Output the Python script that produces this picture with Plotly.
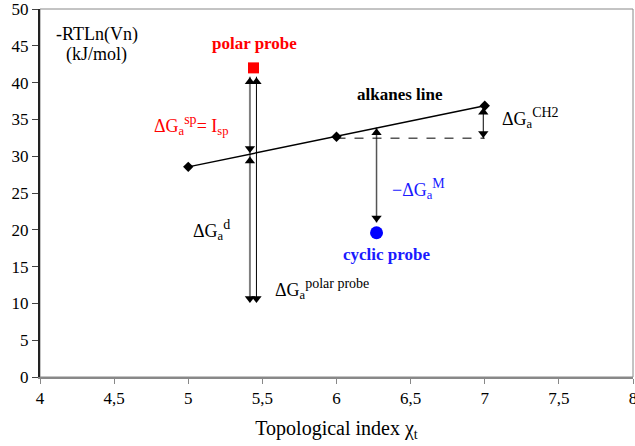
import plotly.graph_objects as go

# ---- data ----
alkane_x = [5, 6, 7]
alkane_y = [28.55, 32.65, 36.85]

polar_x = [5.44]
polar_y = [42.0]

cyclic_x = [6.27]
cyclic_y = [19.6]

# vertical arrows: x, top, bottom, colour, width
arrow_x = [5.416, 5.46, 6.99, 6.27]
arrow_top = [40.8, 40.8, 36.6, 33.9]
arrow_bottom = [10.3, 10.3, 32.4, 21.0]
arrow_color = ["#7f7f7f", "#000000", "#000000", "#555555"]
arrow_width = [2, 1, 1, 1.5]

# arrow heads
head_up_x = [5.416, 5.46, 5.416, 6.99, 6.27]
head_up_y = [40.1, 40.1, 29.36, 35.98, 33.2]
head_down_x = [5.416, 5.416, 5.46, 6.99, 6.27]
head_down_y = [31.05, 10.66, 10.66, 33.08, 21.6]

# dashed reference line (CH2 increment)
dash_x = [6, 7]
dash_y = [32.45, 32.45]

x_ticks = [4, 4.5, 5, 5.5, 6, 6.5, 7, 7.5, 8]
x_tick_text = ["4", "4,5", "5", "5,5", "6", "6,5", "7", "7,5", "8"]
y_ticks = [0, 5, 10, 15, 20, 25, 30, 35, 40, 45, 50]

SUP = "<span style='font-size:14px'>{}</span>"

# labels: text, x, y, colour, bold
label_text = [
    "-RTLn(Vn)",
    "(kJ/mol)",
    "polar probe",
    "ΔG<sub>a</sub><sup>" + SUP.format("sp") + "</sup>= I<sub>sp</sub>",
    "alkanes line",
    "ΔG<sub>a</sub><sup>" + SUP.format("CH2") + "</sup>",
    "−ΔG<sub>a</sub><sup>" + SUP.format("M") + "</sup>",
    "cyclic probe",
    "ΔG<sub>a</sub><sup>" + SUP.format("d") + "</sup>",
    "ΔG<sub>a</sub><sup>" + SUP.format("polar probe") + "</sup>",
]
label_x = [4.385, 4.38, 5.447, 5.02, 6.43, 7.31, 6.55, 6.335, 5.16, 5.90]
label_y = [46.5, 43.8, 45.3, 34.2, 38.4, 35.2, 25.6, 16.6, 20.0, 12.0]
label_color = ["#000000", "#000000", "#ff0000", "#ff0000", "#000000",
               "#000000", "#1a1aff", "#1a1aff", "#000000", "#000000"]
label_bold = [False, False, True, False, True, False, False, True, False, False]

FONT = "Liberation Serif, Times New Roman, serif"

fig = go.Figure()

for xv, t, b, c, w in zip(arrow_x, arrow_top, arrow_bottom, arrow_color, arrow_width):
    fig.add_trace(go.Scatter(x=[xv, xv], y=[t, b], mode="lines",
                             line=dict(color=c, width=w), hoverinfo="skip",
                             showlegend=False))

fig.add_trace(go.Scatter(x=dash_x, y=dash_y, mode="lines",
                         line=dict(color="#000000", width=1, dash="dash"),
                         showlegend=False))

fig.add_trace(go.Scatter(x=alkane_x, y=alkane_y, mode="lines+markers",
                         line=dict(color="#000000", width=1.5),
                         marker=dict(symbol="diamond", size=8, color="#000000"),
                         showlegend=False))

fig.add_trace(go.Scatter(x=head_up_x, y=head_up_y, mode="markers",
                         marker=dict(symbol="triangle-up", size=9, color="#000000"),
                         showlegend=False))
fig.add_trace(go.Scatter(x=head_down_x, y=head_down_y, mode="markers",
                         marker=dict(symbol="triangle-down", size=9, color="#000000"),
                         showlegend=False))

fig.add_trace(go.Scatter(x=polar_x, y=polar_y, mode="markers",
                         marker=dict(symbol="square", size=11, color="#ff0000"),
                         showlegend=False))
fig.add_trace(go.Scatter(x=cyclic_x, y=cyclic_y, mode="markers",
                         marker=dict(symbol="circle", size=13, color="#0000ff"),
                         showlegend=False))

for t, xv, yv, c, bold in zip(label_text, label_x, label_y, label_color, label_bold):
    fig.add_annotation(x=xv, y=yv, xref="x", yref="y",
                       text=f"<b>{t}</b>" if bold else t,
                       showarrow=False,
                       font=dict(family=FONT, size=17 if bold else 18, color=c))

# frame (top/right in gray)
fig.add_shape(type="rect", xref="paper", yref="paper", x0=0, y0=0, x1=1, y1=1,
              line=dict(color="#888888", width=1), layer="below")

fig.update_layout(
    width=635, height=446,
    margin=dict(l=40, r=2, t=9, b=69),
    paper_bgcolor="white", plot_bgcolor="white",
    font=dict(family=FONT, size=17, color="#000000"),
    xaxis=dict(range=[4, 8], tickvals=x_ticks, ticktext=x_tick_text,
               automargin=False, ticklabeloverflow="allow",
               showgrid=False, zeroline=False, showline=True,
               linecolor="#888888", linewidth=1.5,
               ticks="outside", ticklen=5, tickcolor="#888888",
               tickfont=dict(family=FONT, size=17),
               title=dict(text="Topological index χ<sub>t</sub>",
                          font=dict(family=FONT, size=20), standoff=14)),
    yaxis=dict(range=[0, 50], tickvals=y_ticks, automargin=False,
               ticklabeloverflow="allow",
               showgrid=False, zeroline=False, showline=True,
               linecolor="#222222", linewidth=2,
               ticks="outside", ticklen=6, tickcolor="#444444",
               tickfont=dict(family=FONT, size=17)),
)

fig.write_html(
    "out.html",
    config={"displayModeBar": False},
    post_script="document.body.style.margin='0';document.body.style.overflow='hidden';",
)
